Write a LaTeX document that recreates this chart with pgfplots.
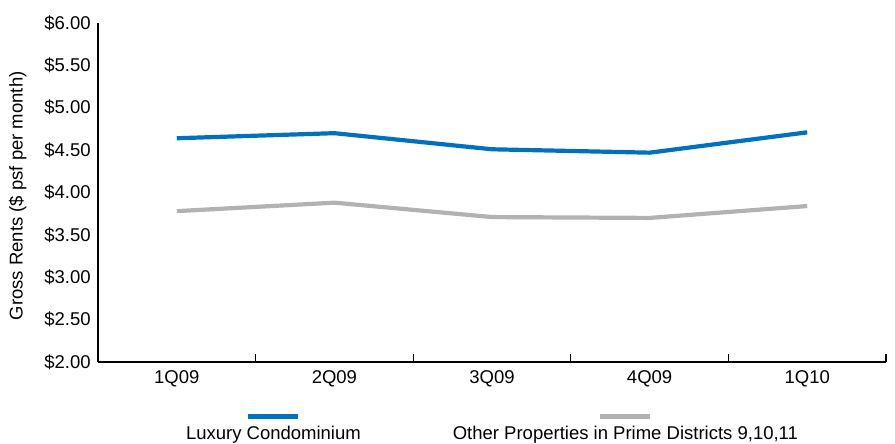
\documentclass[border=0pt]{standalone}
\usepackage{pgfplots}
\pgfplotsset{compat=1.18}
\usepackage{fontspec}
\setmainfont{Liberation Sans}
\definecolor{luxblue}{RGB}{0,112,192}
\definecolor{othergray}{RGB}{178,178,178}
\begin{document}
\begin{tikzpicture}[x=1pt,y=1pt]
\fontsize{18.5}{21}\selectfont
\begin{axis}[
  name=ax,
  at={(98pt,82pt)}, anchor=south west,
  scale only axis,
  width=788pt, height=339pt,
  xmin=-0.5, xmax=4.5,
  ymin=2, ymax=6,
  axis lines*=left,
  axis line style={black, line width=1.1pt},
  xtick={0,1,2,3,4},
  xticklabels={1Q09,2Q09,3Q09,4Q09,1Q10},
  minor xtick={0.5,1.5,2.5,3.5,4.5},
  major tick length=0pt,
  minor tick length=8pt,
  tick align=inside,
  minor tick style={black, line width=1.1pt},
  ytick={2,2.5,...,6},
  /pgf/number format/assume math mode=true,
  yticklabel={\$\pgfmathprintnumber[fixed,fixed zerofill,precision=2]{\tick}},
  tick label style={font=\fontsize{18.5}{21}\selectfont},
  yticklabel style={xshift=-1pt},
  xticklabel style={yshift=-2pt},
  ylabel={Gross Rents (\$ psf per month)},
  ylabel style={at={(axis description cs:-0.102,0.49)}, anchor=center, font=\fontsize{18.5}{21}\selectfont},
  legend columns=2,
  legend style={
    at={(0.5,-0.152)}, anchor=north,
    draw=none, fill=none, inner sep=0pt,
    font=\fontsize{18.5}{21}\selectfont,
    nodes={align=center, inner sep=0pt},
    /tikz/every even column/.append style={column sep=92pt},
  },
  legend image code/.code={},
  clip=false,
]
\addplot[luxblue, line width=4.2pt] coordinates {
  (0,4.64) (1,4.70) (2,4.51) (3,4.47) (4,4.71)
};
\addlegendentry{{\color{luxblue}\rule{50pt}{5pt}}\\Luxury Condominium}
\addplot[othergray, line width=4.2pt] coordinates {
  (0,3.78) (1,3.88) (2,3.71) (3,3.70) (4,3.84)
};
\addlegendentry{{\color{othergray}\rule{50pt}{5pt}}\\Other Properties in Prime Districts 9,10,11}
\end{axis}
\pgfresetboundingbox
\path (0,0) rectangle (895,444);
\end{tikzpicture}
\end{document}
